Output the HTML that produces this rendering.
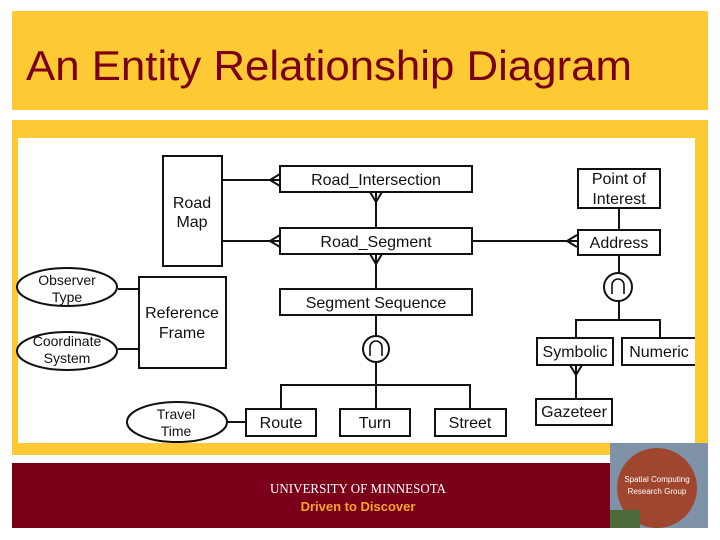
<!DOCTYPE html>
<html><head><meta charset="utf-8"><style>
html,body{margin:0;padding:0;background:#fff;width:720px;height:540px;overflow:hidden}
svg{display:block}
svg text{font-family:"Liberation Sans",Arial,sans-serif}
svg text.serif{font-family:"Liberation Serif",serif}
</style></head><body>
<svg width="720" height="540" viewBox="0 0 720 540" xmlns="http://www.w3.org/2000/svg">
<rect x="0" y="0" width="720" height="540" fill="#fff"/>
<rect x="12" y="11" width="696" height="99" fill="#fdca33"/>
<text x="26" y="80" font-size="42" fill="#7a0019" textLength="606" lengthAdjust="spacingAndGlyphs">An Entity Relationship Diagram</text>
<rect x="12" y="120" width="696" height="335" fill="#fdca33"/>
<rect x="18" y="138" width="677" height="305" fill="#fff"/>
<g stroke="#111" stroke-width="2" fill="none">
<line x1="222" y1="180" x2="280" y2="180"/>
<line x1="222" y1="241" x2="280" y2="241"/>
<line x1="472" y1="241" x2="577" y2="241"/>
<line x1="376" y1="192" x2="376" y2="228"/>
<line x1="376" y1="254" x2="376" y2="288"/>
<line x1="376" y1="316" x2="376" y2="336"/>
<line x1="376" y1="362" x2="376" y2="409"/>
<polyline points="281,409 281,385 470,385 470,409"/>
<line x1="227" y1="422" x2="246" y2="422"/>
<line x1="118" y1="289" x2="139" y2="289"/>
<line x1="118" y1="349" x2="139" y2="349"/>
<line x1="619" y1="208" x2="619" y2="230"/>
<line x1="619" y1="255" x2="619" y2="273"/>
<line x1="619" y1="301" x2="619" y2="320"/>
<polyline points="576,338 576,320 660,320 660,338"/>
<line x1="576" y1="365" x2="576" y2="399"/>
<circle cx="376" cy="349" r="13" fill="#fff"/>
<circle cx="618" cy="287" r="14" fill="#fff"/>
<path d="M370,356 V347 A6,6 0 0 1 382,347 V356" stroke-width="1.6"/>
<path d="M612,294 V285 A6,6 0 0 1 624,285 V294" stroke-width="1.6"/>
<rect x="163" y="156" width="59" height="110" fill="#fff"/>
<rect x="280" y="166" width="192" height="26" fill="#fff"/>
<rect x="280" y="228" width="192" height="26" fill="#fff"/>
<rect x="280" y="289" width="192" height="26" fill="#fff"/>
<rect x="246" y="409" width="70" height="27" fill="#fff"/>
<rect x="340" y="409" width="70" height="27" fill="#fff"/>
<rect x="435" y="409" width="71" height="27" fill="#fff"/>
<rect x="139" y="277" width="87" height="91" fill="#fff"/>
<rect x="578" y="169" width="82" height="39" fill="#fff"/>
<rect x="578" y="230" width="82" height="25" fill="#fff"/>
<rect x="537" y="338" width="76" height="27" fill="#fff"/>
<rect x="622" y="338" width="80" height="27" fill="#fff"/>
<rect x="536" y="399" width="76" height="26" fill="#fff"/>
<ellipse cx="67" cy="287" rx="50" ry="19" fill="#fff"/>
<ellipse cx="67" cy="351" rx="50" ry="19" fill="#fff"/>
<ellipse cx="177" cy="422" rx="50" ry="20" fill="#fff"/>
<path d="M270,180 L280,174 M270,180 L280,186"/>
<path d="M270,241 L280,235 M270,241 L280,247"/>
<path d="M567,241 L577,235 M567,241 L577,247"/>
<path d="M376,202 L370,192 M376,202 L382,192"/>
<path d="M376,264 L370,254 M376,264 L382,254"/>
<path d="M576,375 L570,365 M576,375 L582,365"/>
</g>
<rect x="695" y="330" width="13" height="40" fill="#fdca33"/>
<g font-size="16" fill="#111" text-anchor="middle">
<text x="192" y="208">Road</text><text x="192" y="227">Map</text>
<text x="376" y="185">Road_Intersection</text>
<text x="376" y="247">Road_Segment</text>
<text x="376" y="308">Segment Sequence</text>
<text x="281" y="428">Route</text>
<text x="375" y="428">Turn</text>
<text x="470" y="428">Street</text>
<text x="182" y="318">Reference</text><text x="182" y="338">Frame</text>
<text x="619" y="184">Point of</text><text x="619" y="204">Interest</text>
<text x="619" y="248">Address</text>
<text x="575" y="357">Symbolic</text>
<text x="659" y="357">Numeric</text>
<text x="574" y="417">Gazeteer</text>
</g>
<g font-size="14" fill="#111" text-anchor="middle">
<text x="67" y="285">Observer</text><text x="67" y="302">Type</text>
<text x="67" y="346">Coordinate</text><text x="67" y="363">System</text>
<text x="176" y="419">Travel</text><text x="176" y="436">Time</text>
</g>
<rect x="12" y="463" width="696" height="65" fill="#7a0019"/>
<text class="serif" x="358" y="493" font-size="14" fill="#fff" text-anchor="middle" textLength="176" lengthAdjust="spacingAndGlyphs">UNIVERSITY OF MINNESOTA</text>
<text x="358" y="511" font-size="13" font-weight="bold" fill="#f5a623" text-anchor="middle">Driven to Discover</text>
<rect x="610" y="443" width="98" height="85" fill="#7f93a8"/>
<circle cx="657" cy="488" r="40" fill="#a0452e"/>
<rect x="610" y="510" width="30" height="18" fill="#4a6a3a"/>
<text x="657" y="482" font-size="8" fill="#fff" text-anchor="middle">Spatial Computing</text>
<text x="657" y="494" font-size="8" fill="#fff" text-anchor="middle">Research Group</text>
</svg>
</body></html>
